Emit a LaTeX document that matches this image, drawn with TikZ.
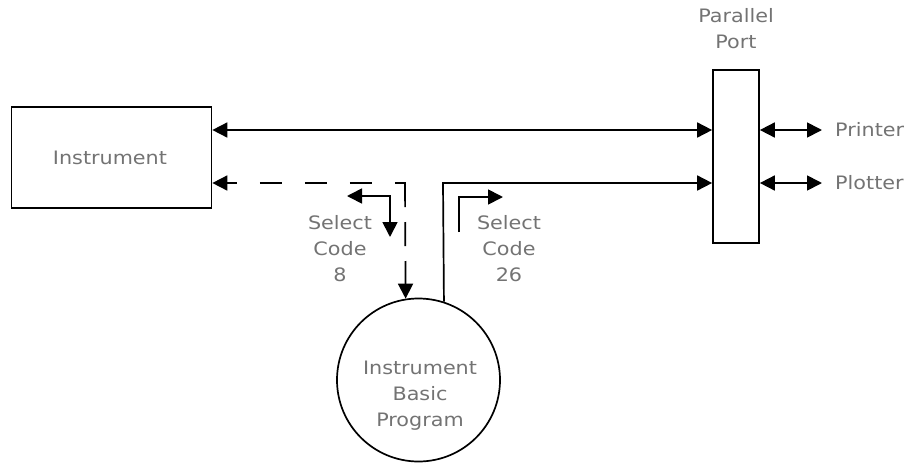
\documentclass[tikz,border=0pt]{standalone}
\usepackage{fontspec}
\setmainfont{DejaVu Sans}[FakeStretch=1.12]
\usetikzlibrary{arrows.meta}
\begin{document}
\begin{tikzpicture}[x=1pt,y=-1pt,
  ln/.style={line width=1.7pt, draw=black},
  >={Triangle[length=15pt,width=15pt]},
  lbl/.style={text=black!55, font=\fontsize{18.5}{26}\selectfont, align=center, inner sep=0pt},
  boxs/.style={ln, rectangle, inner sep=0pt}
]
\useasboundingbox (0,0) rectangle (914,464);

% boxes
\node[boxs, minimum width=200pt, minimum height=101pt] (inst) at (111.5,157.5) {};
\node[lbl] (instlbl) at (110,157.5) {Instrument};
\node[boxs, minimum width=46pt, minimum height=173pt] (port) at (736,156.5) {};
\node[lbl] (portlbl) at (736,29) {Parallel\\Port};
\node[ln, circle, minimum size=163pt, inner sep=0pt] (circ) at (418.5,380) {};
\node[lbl] (circlbl) at (420,396) {Instrument\\Basic\\Program};

% text labels
\node[lbl] (sc8) at (340,249) {Select\\Code\\8};
\node[lbl] (sc26) at (509,249) {Select\\Code\\26};
\node[lbl, anchor=west] (printer) at (835,130) {Printer};
\node[lbl, anchor=west] (plotter) at (835,183) {Plotter};

% coordinates
\coordinate (top) at (0,130);
\coordinate (c8) at (405,183);
\coordinate (c26) at (443,183);

% main connectors
\draw[ln, <->] (inst.east |- top) -- (port.west |- top);
\draw[ln, ->] (circ.72.5) -- (c26) -- (port.west |- c26);
\draw[ln, <-, dash pattern=on 22pt off 23pt, dash phase=12pt] (inst.east |- c8) -- ([xshift=0.85pt]c8);
\draw[ln, ->, dash pattern=on 24pt off 15pt] (c8) -- (circ.99.5);

% port outputs
\draw[ln, <->] (port.east |- printer) -- ([xshift=-13pt]printer.west);
\draw[ln, <->] (port.east |- plotter) -- ([xshift=-13pt]plotter.west);

% select code arrows
\coordinate (s8a) at (347,196);
\coordinate (s8b) at (390,196);
\coordinate (s8c) at (390,237);
\draw[ln, <->] (s8a) -- (s8b) -- (s8c);
\coordinate (s26a) at (459,232);
\coordinate (s26b) at (459,197);
\coordinate (s26c) at (503,197);
\draw[ln, ->] (s26a) -- (s26b) -- (s26c);
\end{tikzpicture}
\end{document}
